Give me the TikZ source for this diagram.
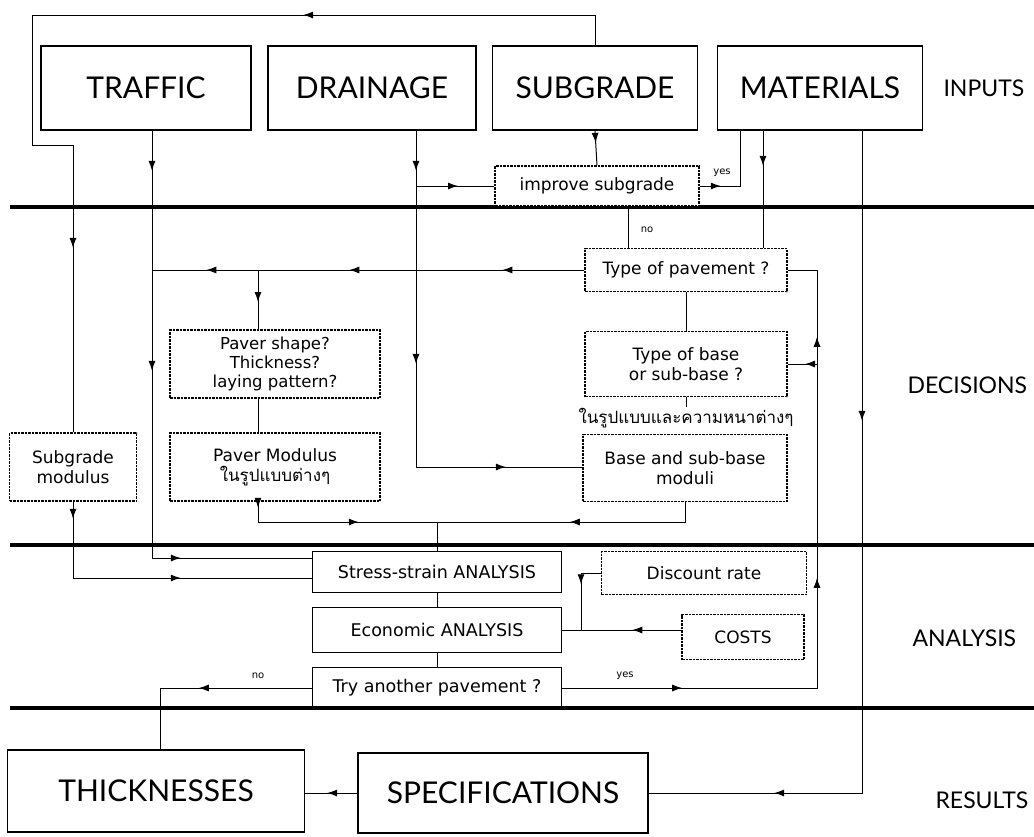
\documentclass[tikz,border=0pt]{standalone}
\usepackage{fontspec}
\setmainfont{Lato}
\newfontfamily\boxfont{DejaVu Sans}
\newfontfamily\thaifont[Script=Thai]{Loma}
\usetikzlibrary{arrows.meta,decorations.markings}

\tikzset{
  bigbox/.style={draw, line width=1.8pt, minimum height=84pt, inner sep=2pt,
    font=\fontsize{30}{34}\selectfont},
  decbox/.style={draw, line width=1.5pt, dash pattern=on 2.5pt off 1pt, align=center,
    inner sep=2pt, font=\boxfont\fontsize{17}{20}\selectfont},
  anabox/.style={draw, line width=1.4pt, align=center, inner sep=2pt,
    font=\boxfont\fontsize{17.5}{20}\selectfont},
  sidelabel/.style={anchor=west, font=\fontsize{23}{26}\selectfont},
  tag/.style={font=\boxfont\fontsize{10}{11}\selectfont, inner sep=1pt},
  divider/.style={line width=3.5pt},
  conn/.style={line width=1pt},
  arrowat/.style={postaction={decorate, decoration={markings,
    mark=at position #1 with {\arrow{Latex[length=10pt,width=7pt]}}}}}
}

\begin{document}
\begin{tikzpicture}[x=1pt, y=-1pt]
\useasboundingbox[fill=white] (0,0) rectangle (1034,836);

% section dividers
\draw[divider] (10,207) -- (1034,207);
\draw[divider] (10,545) -- (1034,545);
\draw[divider] (10,708) -- (1034,708);

% inputs
\node[bigbox, minimum width=210pt] (traffic)   at (146,88) {TRAFFIC};
\node[bigbox, minimum width=208pt] (drainage)  at (372,88) {DRAINAGE};
\node[bigbox, minimum width=205pt] (subgrade)  at (595,88) {SUBGRADE};
\node[bigbox, minimum width=205pt] (materials) at (820,88) {MATERIALS};

% decisions
\node[decbox, minimum width=204pt, minimum height=40pt, fill=white] (improve) at (597,186) {improve subgrade};
\node[decbox, minimum width=202pt, minimum height=43pt] (typepav)  at (686,270) {Type of pavement ?};
\node[decbox, minimum width=202pt, minimum height=65pt] (typebase) at (686,364) {Type of base\\or sub-base ?};
\node[font=\thaifont\fontsize{17}{19}\selectfont, inner sep=1pt] (thaibase) at (686,418) {ในรูปแบบและความหนาต่างๆ};
\node[decbox, minimum width=204pt, minimum height=67pt] (basemod)  at (685,468) {Base and sub-base\\moduli};
\node[decbox, minimum width=210pt, minimum height=68pt, font=\boxfont\fontsize{16.5}{19}\selectfont] (pavershape) at (275,364) {Paver shape?\\Thickness?\\laying pattern?};
\node[decbox, minimum width=210pt, minimum height=68pt] (pavermod)   at (275,467) {Paver Modulus\\{\thaifont ในรูปแบบต่างๆ}};
\node[decbox, minimum width=127pt, minimum height=68pt] (subgmod)    at (73,467) {Subgrade\\modulus};

% analysis
\node[anabox, minimum width=249pt, minimum height=41pt] (stress)     at (437,572) {Stress-strain ANALYSIS};
\node[anabox, minimum width=249pt, minimum height=45pt] (econ)       at (437,630) {Economic ANALYSIS};
\node[anabox, minimum width=249pt, minimum height=41pt] (tryanother) at (437,688) {Try another pavement ?};
\node[decbox, minimum width=205pt, minimum height=43pt] (discount)   at (704,573) {Discount rate};
\node[decbox, minimum width=122pt, minimum height=45pt] (costs)      at (743,637) {COSTS};

% results
\node[bigbox, minimum width=297pt, minimum height=82pt] (thick) at (156,791) {THICKNESSES};
\node[bigbox, minimum width=290pt, minimum height=80pt] (spec)  at (503,793) {SPECIFICATIONS};

% side labels
\node[sidelabel] (inputs)    at (940,88)  {INPUTS};
\node[sidelabel] (decisions) at (904,385) {DECISIONS};
\node[sidelabel] (analysis)  at (909,638) {ANALYSIS};
\node[sidelabel] (results)   at (932,800) {RESULTS};

% bus points
\coordinate (fbTL) at (32,15);
\coordinate (fbBL) at (32,145);
\coordinate (trafficbus) at (152,558);
\coordinate (subgbus) at (73,578);
\coordinate (drainbus) at (416,467);
\coordinate (drainimp) at (416,186);
\coordinate (matyes) at (740,186);
\coordinate (impno) at (628,230);
\coordinate (matbus) at (763,200);
\coordinate (specbus) at (862,793);
\coordinate (pavbus) at (152,270);
\coordinate (paverbus) at (258,270);
\coordinate (loopB) at (817,688);
\coordinate (loopT) at (817,270);
\coordinate (loopbase) at (817,364);
\coordinate (modbus) at (437,522);
\coordinate (pmbus) at (258,522);
\coordinate (discbus) at (581,573);
\coordinate (thickbus) at (160,688);

% connectors
\draw[conn, arrowat=322pt, arrowat=867pt] (subgrade.north) |- (fbTL) -- (fbBL) -| (subgmod.north);
\draw[conn, arrowat=40pt, arrowat=240pt, arrowat=456pt] (traffic.south -| trafficbus) -- (trafficbus) -- (trafficbus -| stress.west);
\draw[conn, arrowat=17pt, arrowat=184pt] (subgmod.south) -- (subgbus) -- (subgbus -| stress.west);
\draw[conn, arrowat=40pt, arrowat=233pt, arrowat=426pt] (drainage.south -| drainbus) -- (drainbus) -- (drainbus -| basemod.west);
\draw[conn, arrowat=42pt] (drainimp) -- (improve.west);
\draw[conn, arrowat=12pt] (subgrade.south) -- (improve.north);
\draw[conn, arrowat=21pt] (improve.east) -- (matyes) -- (matyes |- materials.south);
\draw[conn] (improve.south -| impno) -- (typepav.north -| impno);
\draw[conn, arrowat=35pt] (materials.south -| matbus) -- (typepav.north -| matbus);
\draw[conn, arrowat=290pt, arrowat=750pt] (materials.south -| specbus) -- (specbus) -- (spec.east);
\draw[conn, arrowat=82pt, arrowat=235pt, arrowat=378pt] (typepav.west) -- (pavbus);
\draw[conn, arrowat=32pt] (paverbus) -- (paverbus |- pavershape.north);
\draw[conn, arrowat=120pt, arrowat=365pt, arrowat=606pt] (tryanother.east) -- (loopB) -- (loopT) -- (typepav.east);
\draw[conn, arrowat=12pt] (loopbase) -- (typebase.east);
\draw[conn] (typepav.south) -- (typebase.north);
\draw[conn] (typebase.south) -- (thaibase.north);
\draw[conn] (pavershape.south -| paverbus) -- (pavermod.north -| paverbus);
\draw[conn, arrowat=135pt] (basemod.south) |- (modbus) -- (stress.north);
\draw[conn, arrowat=6pt, arrowat=121pt] (pavermod.south -| pmbus) -- (pmbus) -- (modbus);
\draw[conn] (stress.south) -- (econ.north);
\draw[conn] (econ.south) -- (tryanother.north);
\draw[conn, arrowat=31pt] (discount.west) -- (discbus) |- (econ.east);
\draw[conn, arrowat=49pt] (costs.west |- econ.east) -- (econ.east);
\draw[conn, arrowat=113pt] (tryanother.west) -- (thickbus) -- (thickbus |- thick.north);
\draw[conn, arrowat=30pt] (spec.west) -- (spec.west -| thick.east);

% answers
\node[tag] (yesimp) at (722,173) {yes};
\node[tag] (noimp)  at (647,230) {no};
\node[tag] (notry)  at (258,676) {no};
\node[tag] (yestry) at (625,676) {yes};
\end{tikzpicture}
\end{document}
